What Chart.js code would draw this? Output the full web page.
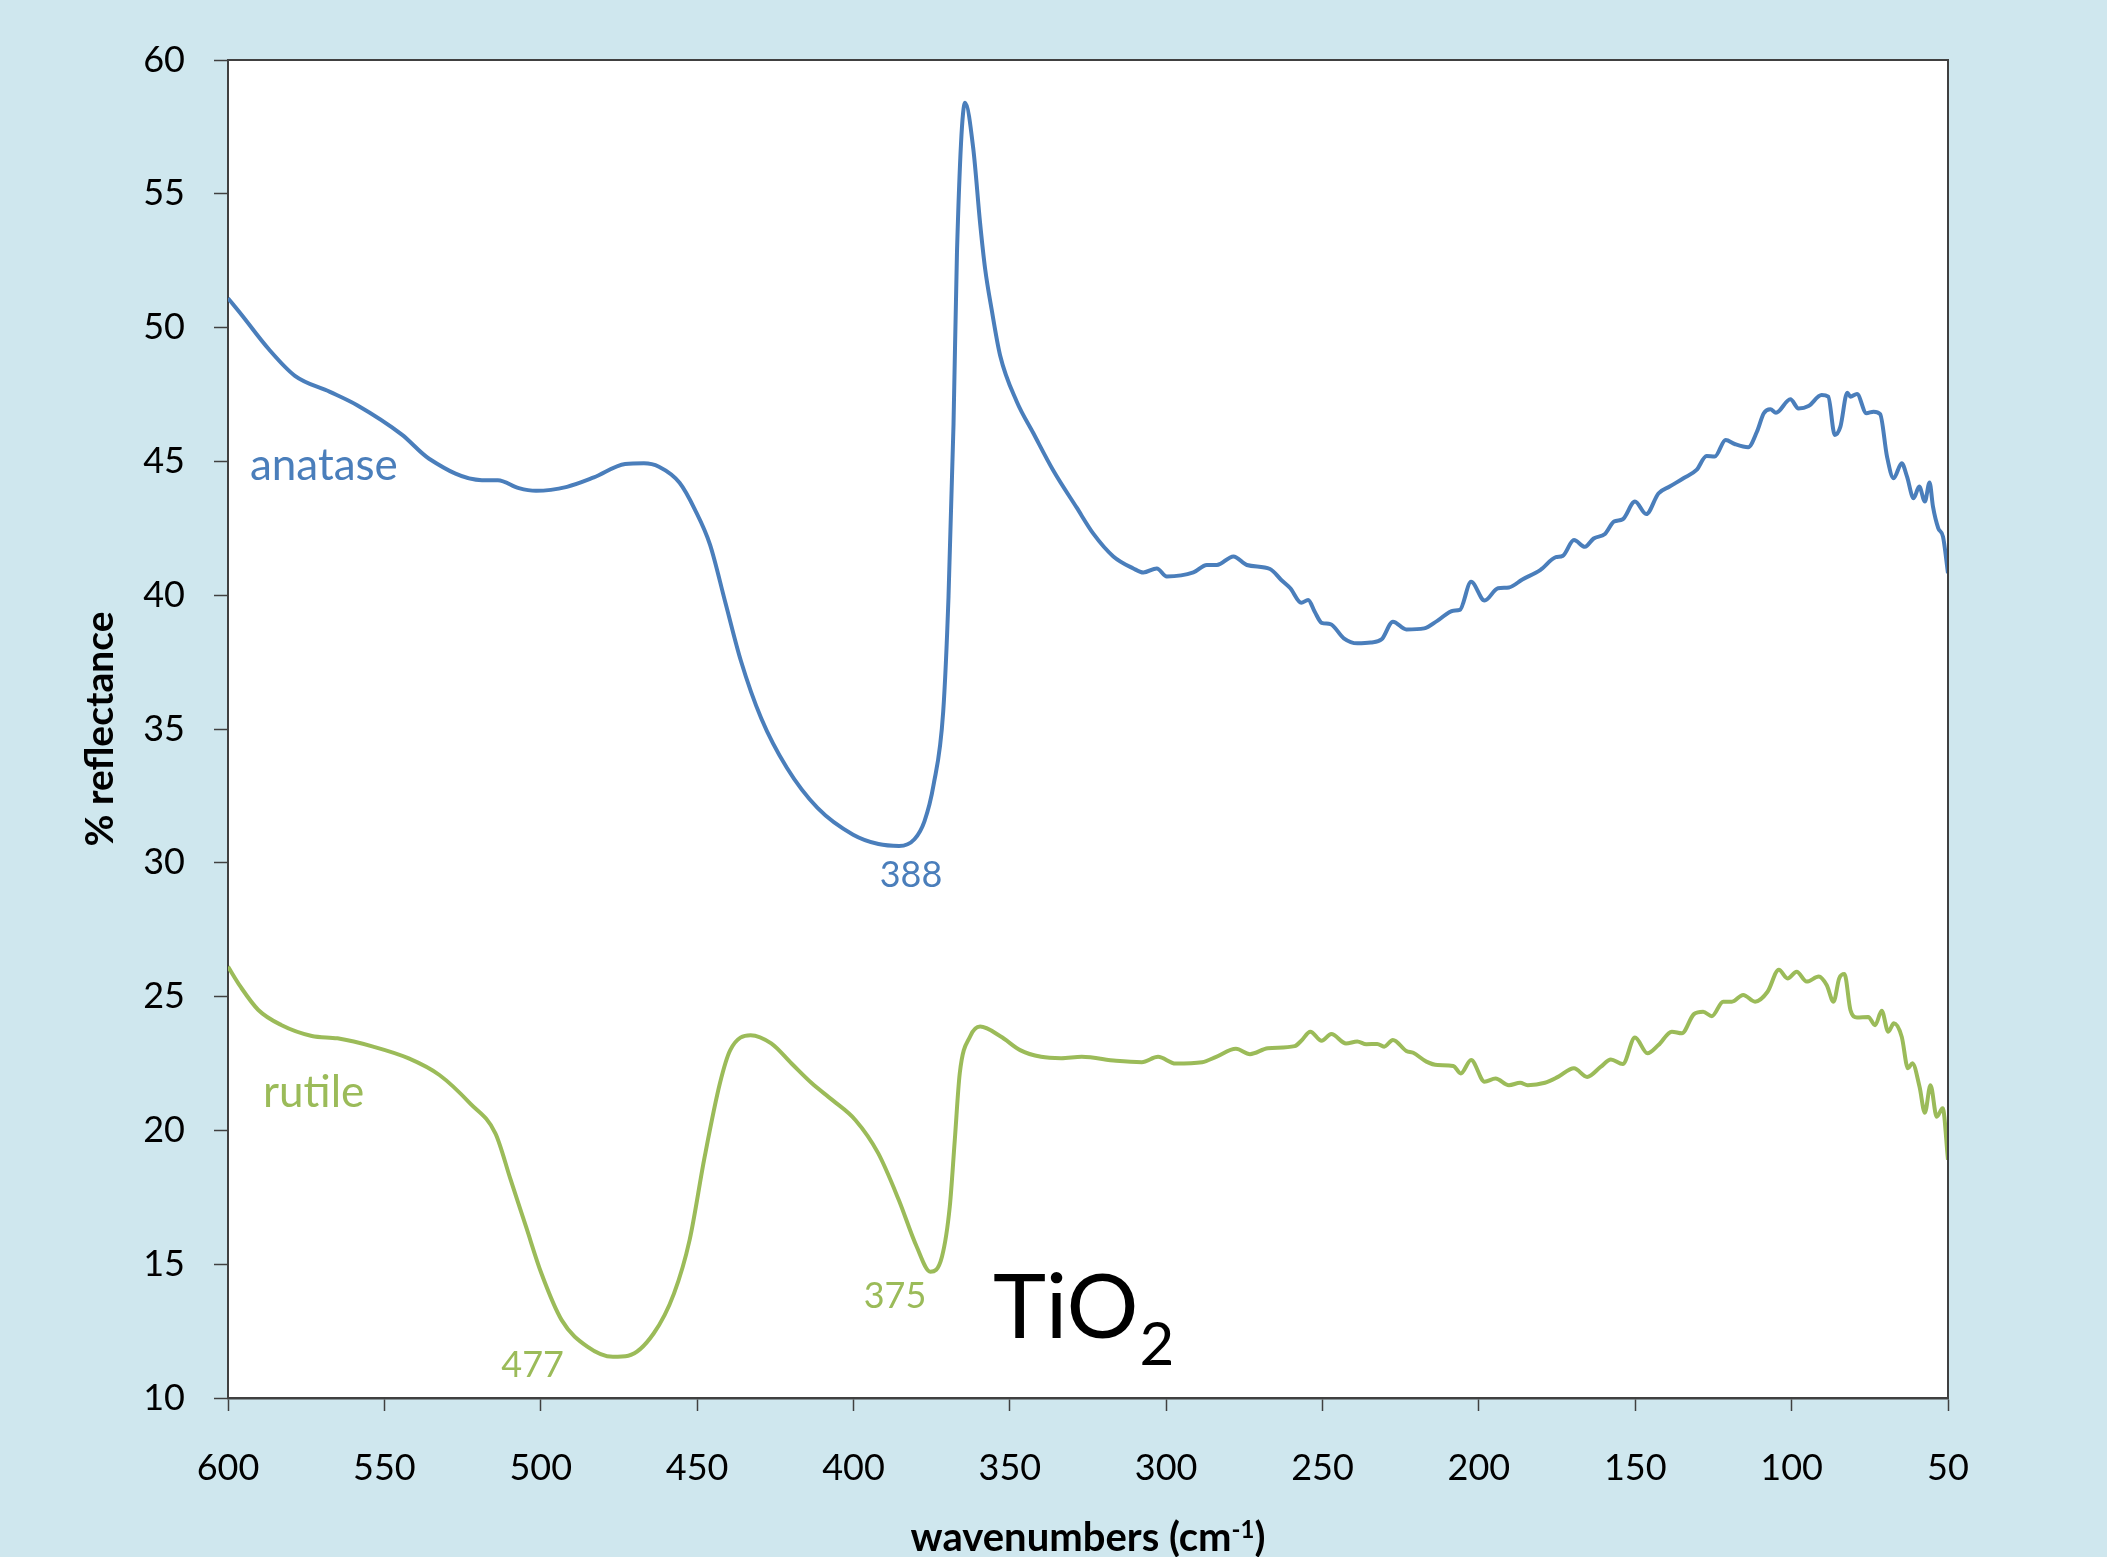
<!DOCTYPE html>
<html>
<head>
<meta charset="utf-8">
<title>TiO2 reflectance</title>
<script src="https://cdn.jsdelivr.net/npm/chart.js@4.4.0/dist/chart.umd.min.js"></script>
<style>
    html, body { margin: 0; padding: 0; background: #cfe7ee; }
    #chart { display: block; }
</style>
</head>
<body>
<canvas id="chart" width="2107" height="1557"></canvas>
<script>
// Spectra: wavenumber (cm-1) and % reflectance
const anataseWavenumber = [
    600, 595.8, 587, 578.6, 567.4, 558.7, 544.4, 535.7, 518.8, 513.7, 507, 501.5, 491.6, 483, 473,
    467, 462.2, 455.6, 450.7, 445.9, 440.9, 436, 429.5, 421.3, 411.5, 400.1, 392, 385.4, 380.5,
    377.3, 374.4, 371.3, 369.6, 368, 366.9, 364.3, 361.7, 359.5, 357.9, 355.8, 353.1, 347.8, 342.5,
    336.1, 328.6, 323.3, 316.9, 310.5, 307.3, 303, 299.8, 291.3, 287, 283.8, 278.5, 274.2, 266.8,
    263.2, 260.3, 256.8, 254.6, 252.5, 250.3, 247.5, 243.2, 238.9, 234.6, 231.1, 227.5, 223.2,
    217.5, 213.2, 208.2, 206.1, 202.5, 198.2, 193.9, 190.4, 186.1, 180.4, 175.4, 173.2, 169.6,
    166.1, 163.3, 159.7, 156.8, 154, 150.1, 146.5, 142.6, 139, 134.6, 130.4, 127.2, 124.6, 121.1,
    118.2, 113.9, 111.1, 108.9, 106.8, 105, 100.4, 97.8, 94.6, 90.4, 88.3, 86.2, 84.4, 82.2, 81.2,
    79.1, 76.1, 73.8, 71.7, 69.5, 67.4, 64.8, 63.1, 61, 59.2, 57.4, 55.9, 54.8, 53.1, 51.6, 50
];
const anataseReflectance = [
    51.1, 50.5, 49.2, 48.2, 47.6, 47.1, 46.0, 45.1, 44.3, 44.3, 44.0, 43.9, 44.05, 44.4, 44.9,
    44.93, 44.8, 44.2, 43.2, 41.9, 39.7, 37.55, 35.4, 33.55, 32.05, 31.05, 30.7, 30.63, 30.88,
    31.55, 32.9, 35.65, 39.95, 46.4, 52.8, 58.4, 56.7, 53.9, 52.2, 50.67, 48.96, 47.24, 46.06,
    44.66, 43.27, 42.3, 41.45, 41.0, 40.85, 41.0, 40.7, 40.85, 41.13, 41.13, 41.45, 41.13, 40.98,
    40.57, 40.26, 39.72, 39.82, 39.38, 38.97, 38.92, 38.39, 38.2, 38.23, 38.35, 39.01, 38.72,
    38.76, 39.05, 39.42, 39.45, 40.5, 39.8, 40.26, 40.29, 40.59, 40.94, 41.42, 41.47, 42.06,
    41.81, 42.12, 42.29, 42.75, 42.84, 43.5, 43.03, 43.8, 44.06, 44.37, 44.68, 45.2, 45.18, 45.8,
    45.65, 45.53, 46.11, 46.8, 46.95, 46.82, 47.32, 46.98, 47.07, 47.48, 47.42, 45.99, 46.3, 47.57, 47.42,
    47.52, 46.8, 46.86, 46.77, 45.18, 44.37, 44.93, 44.43, 43.62, 44.06, 43.5, 44.21, 43.31, 42.5, 42.19, 40.82
];

const rutileWavenumber = [
    600, 596, 590.3, 583, 573.2, 565, 553.6, 542.2, 532.4, 522.6, 514.5, 509.6, 504.7, 499.8,
    493.3, 485.1, 476.9, 472, 463.9, 457.4, 452.4, 447.6, 442.7, 439.4, 432.9, 426.3, 419.8,
    413.3, 406.8, 399.4, 392.1, 385.5, 379.8, 375.4, 371.7, 369.2, 367.6, 366, 362.7, 359.5,
    352.9, 346.7, 340, 333.6, 327, 316, 307.8, 302.6, 297, 288.5, 284, 277.7, 273.2, 267.5,
    258.9, 256.8, 253.9, 250.3, 247.2, 242.5, 238.9, 236, 232.5, 230.3, 227.5, 223.2, 221,
    216.8, 213.2, 208.2, 205.8, 202.5, 198.2, 194.7, 190.4, 186.8, 184.4, 178.9, 174.7, 169.6,
    165.4, 161.1, 157.8, 154, 150.1, 146.1, 142.6, 138.3, 135.1, 131.2, 128.3, 125.5, 121.9,
    119.1, 115.5, 111.7, 107.7, 104.1, 101.3, 98.4, 95.2, 91.3, 88.8, 86.6, 84.8, 83.1, 81.2,
    79.1, 75.5, 73.3, 71.2, 69.1, 67.3, 64.8, 62.8, 61.4, 59.1, 57.4, 55.6, 53.6, 51.7, 50
];
const rutileReflectance = [
    26.12, 25.37, 24.5, 23.94, 23.53, 23.44, 23.13, 22.69, 22.07, 21.01, 19.89, 18.15, 16.4, 14.66,
    12.91, 11.92, 11.54, 11.58, 12.41, 13.9, 15.9, 19.0, 21.76, 23.0, 23.56, 23.25, 22.5,
    21.76, 21.14, 20.39, 19.15, 17.4, 15.66, 14.72, 15.28, 17.15, 19.64, 22.14, 23.51, 23.88,
    23.51, 23.0, 22.75, 22.7, 22.75, 22.6, 22.55, 22.75, 22.5, 22.55, 22.75, 23.05, 22.85, 23.07,
    23.15, 23.35, 23.69, 23.35, 23.6, 23.25, 23.32, 23.22, 23.23, 23.13, 23.38, 22.97, 22.9,
    22.57, 22.44, 22.41, 22.13, 22.63, 21.82, 21.94, 21.69, 21.78, 21.69, 21.78, 22.0, 22.32,
    22.0, 22.37, 22.65, 22.48, 23.47, 22.88, 23.19, 23.69, 23.63, 24.35, 24.43, 24.27, 24.81,
    24.81, 25.06, 24.81, 25.18, 26.0, 25.68, 25.93, 25.56, 25.75, 25.43, 24.81, 25.68, 25.84, 24.5,
    24.22, 24.24, 23.93, 24.47, 23.69, 24.0, 23.5, 22.32, 22.51, 21.63, 20.66, 21.69, 20.51, 20.83, 18.9
];

const xTicks = [600, 550, 500, 450, 400, 350, 300, 250, 200, 150, 100, 50];
const yTicks = [10, 15, 20, 25, 30, 35, 40, 45, 50, 55, 60];

// Band positions marked on the curves
const anataseBands = ['388'];
const rutileBands = ['477', '375'];

const BLUE = '#4a7ebb';
const GREEN = '#9bbb59';
const FONT = 'Lato, "Open Sans", sans-serif';

// Turn two parallel arrays into {x, y} points
function toPoints(xs, ys) {
    return xs.map((x, i) => ({ x: x, y: ys[i] }));
}

// Paint the light blue page and the white plot area
const backgroundPlugin = {
    id: 'background',
    beforeDraw(chart) {
        const { ctx, chartArea: a } = chart;
        ctx.save();
        ctx.fillStyle = '#cfe7ee';
        ctx.fillRect(0, 0, chart.width, chart.height);
        ctx.fillStyle = '#ffffff';
        ctx.fillRect(a.left, a.top, a.right - a.left, a.bottom - a.top);
        ctx.restore();
    },
    afterDraw(chart) {
        const { ctx, chartArea: a } = chart;
        ctx.save();
        ctx.strokeStyle = '#404040';
        ctx.lineWidth = 2;
        ctx.beginPath();
        ctx.moveTo(a.left, a.top);
        ctx.lineTo(a.right, a.top);
        ctx.lineTo(a.right, a.bottom);
        ctx.stroke();
        ctx.restore();
    }
};

// Axis titles, series names, band labels and the TiO2 caption
const textPlugin = {
    id: 'texts',
    afterDraw(chart) {
        const { ctx, chartArea: a } = chart;
        const xs = chart.scales.x;
        const ys = chart.scales.y;
        ctx.save();
        ctx.textBaseline = 'alphabetic';

        // y title
        ctx.save();
        ctx.translate(a.left - 128, (a.top + a.bottom) / 2);
        ctx.rotate(-Math.PI / 2);
        ctx.font = 'bold 39px ' + FONT;
        ctx.fillStyle = '#000';
        ctx.textAlign = 'center';
        ctx.textBaseline = 'middle';
        ctx.fillText('% reflectance', 0, 0);
        ctx.restore();

        // x title with superscript
        const main = 'wavenumbers (cm';
        ctx.font = 'bold 40px ' + FONT;
        const w1 = ctx.measureText(main).width;
        const w3 = ctx.measureText(')').width;
        ctx.font = 'bold 24px ' + FONT;
        const w2 = ctx.measureText('-1').width;
        let x0 = (a.left + a.right) / 2 - (w1 + w2 + w3) / 2;
        const base = chart.height - 6;
        ctx.fillStyle = '#000';
        ctx.textAlign = 'left';
        ctx.font = 'bold 40px ' + FONT;
        ctx.fillText(main, x0, base);
        ctx.font = 'bold 24px ' + FONT;
        ctx.fillText('-1', x0 + w1, base - 13);
        ctx.font = 'bold 40px ' + FONT;
        ctx.fillText(')', x0 + w1 + w2, base);

        // series names
        ctx.font = '44px ' + FONT;
        ctx.textAlign = 'left';
        ctx.fillStyle = BLUE;
        ctx.fillText('anatase', xs.getPixelForValue(593), ys.getPixelForValue(44.3));
        ctx.fillStyle = GREEN;
        ctx.fillText('rutile', xs.getPixelForValue(588.8), ys.getPixelForValue(20.87));

        // band labels
        ctx.font = '36px ' + FONT;
        ctx.textAlign = 'center';
        ctx.fillStyle = BLUE;
        ctx.fillText(anataseBands[0], xs.getPixelForValue(381.6), ys.getPixelForValue(29.1));
        ctx.fillStyle = GREEN;
        ctx.fillText(rutileBands[0], xs.getPixelForValue(502.6), ys.getPixelForValue(10.8));
        ctx.fillText(rutileBands[1], xs.getPixelForValue(386.7), ys.getPixelForValue(13.36));

        // TiO2 caption
        ctx.fillStyle = '#000';
        ctx.textAlign = 'left';
        ctx.font = '90px ' + FONT;
        const tx = xs.getPixelForValue(355.4);
        const ty = ys.getPixelForValue(12.24);
        ctx.fillText('TiO', tx, ty);
        const tw = ctx.measureText('TiO').width;
        ctx.font = '60px ' + FONT;
        ctx.fillText('2', tx + tw + 1, ty + 27);

        ctx.restore();
    }
};

const tickFont = { family: FONT, size: 36 };

new Chart(document.getElementById('chart'), {
    type: 'line',
    data: {
        datasets: [
            {
                label: 'anatase',
                data: toPoints(anataseWavenumber, anataseReflectance),
                borderColor: BLUE,
                borderWidth: 4,
                pointRadius: 0,
                cubicInterpolationMode: 'monotone',
                fill: false
            },
            {
                label: 'rutile',
                data: toPoints(rutileWavenumber, rutileReflectance),
                borderColor: GREEN,
                borderWidth: 4,
                pointRadius: 0,
                cubicInterpolationMode: 'monotone',
                fill: false
            }
        ]
    },
    options: {
        responsive: false,
        animation: false,
        devicePixelRatio: 1,
        layout: { padding: { top: 60, right: 159, left: 0, bottom: 0 } },
        plugins: {
            legend: { display: false },
            tooltip: { enabled: false }
        },
        scales: {
            x: {
                type: 'linear',
                reverse: true,
                min: 50,
                max: 600,
                afterBuildTicks: scale => { scale.ticks = xTicks.map(v => ({ value: v })); },
                afterFit: scale => { scale.height = 159; },
                ticks: { color: '#000', font: tickFont, padding: 36, maxRotation: 0 },
                grid: { drawOnChartArea: false, drawTicks: true, tickLength: 13, tickColor: '#404040', tickWidth: 1.5 },
                border: { display: true, color: '#404040', width: 2.5 }
            },
            y: {
                type: 'linear',
                min: 10,
                max: 60,
                afterBuildTicks: scale => { scale.ticks = yTicks.map(v => ({ value: v })); },
                afterFit: scale => { scale.width = 228; },
                ticks: { color: '#000', font: tickFont, padding: 29 },
                grid: { drawOnChartArea: false, drawTicks: true, tickLength: 14, tickColor: '#404040', tickWidth: 1.5 },
                border: { display: true, color: '#404040', width: 2 }
            }
        }
    },
    plugins: [backgroundPlugin, textPlugin]
});
</script>
</body>
</html>
